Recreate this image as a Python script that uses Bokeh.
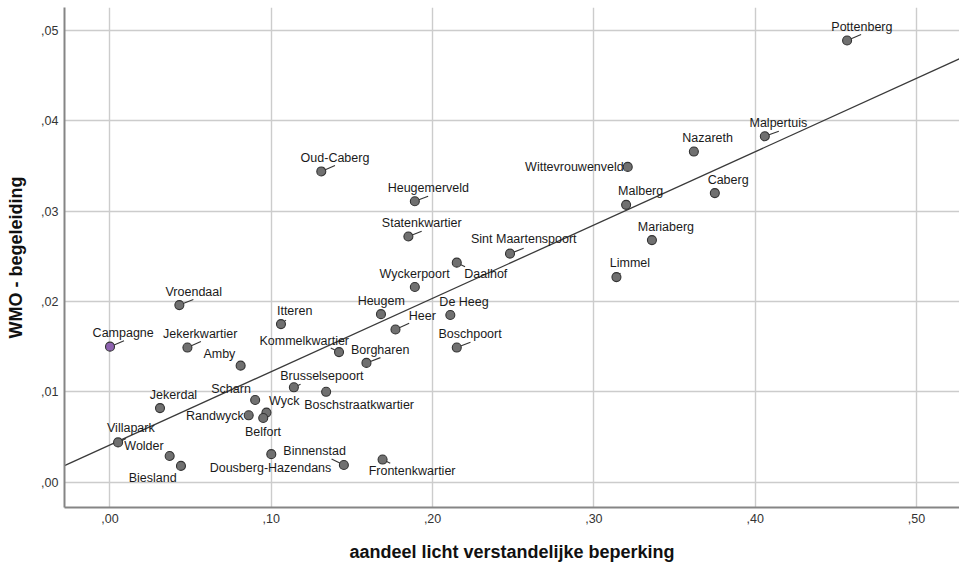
import numpy as np
from bokeh.plotting import figure
from bokeh.models import ColumnDataSource, Range1d, FixedTicker
from bokeh.core.properties import value, field
from bokeh.embed import file_html
from bokeh.resources import INLINE

# ---------------- data ----------------
names = ["Pottenberg", "Malpertuis", "Nazareth", "Wittevrouwenveld", "Caberg",
         "Malberg", "Mariaberg", "Limmel", "Oud-Caberg", "Heugemerveld",
         "Statenkwartier", "Sint Maartenspoort", "Daalhof", "Wyckerpoort",
         "Vroendaal", "Heugem", "De Heeg", "Itteren", "Heer", "Campagne",
         "Jekerkwartier", "Boschpoort", "Kommelkwartier", "Amby", "Borgharen",
         "Brusselsepoort", "Boschstraatkwartier", "Scharn", "Jekerdal", "Wyck",
         "Randwyck", "Belfort", "Villapark", "Dousberg-Hazendans", "Wolder",
         "Frontenkwartier", "Binnenstad", "Biesland"]
aandeel_lvb = [0.457, 0.406, 0.362, 0.321, 0.375,
               0.320, 0.336, 0.314, 0.131, 0.189,
               0.185, 0.248, 0.215, 0.189,
               0.043, 0.168, 0.211, 0.106, 0.177, 0.000,
               0.048, 0.215, 0.142, 0.081, 0.159,
               0.114, 0.134, 0.090, 0.031, 0.097,
               0.086, 0.095, 0.005, 0.100, 0.037,
               0.169, 0.145, 0.044]
wmo_begeleiding = [0.0489, 0.0383, 0.0366, 0.0349, 0.0320,
                   0.0307, 0.0268, 0.0227, 0.0344, 0.0311,
                   0.0272, 0.0253, 0.0243, 0.0216,
                   0.0196, 0.0186, 0.0185, 0.0175, 0.0169, 0.0150,
                   0.0149, 0.0149, 0.0144, 0.0129, 0.0132,
                   0.0105, 0.0100, 0.0091, 0.0082, 0.0077,
                   0.0074, 0.0071, 0.0044, 0.0031, 0.0029,
                   0.0025, 0.0019, 0.0018]
highlighted = ["Campagne"]

x_ticks = [0.0, 0.1, 0.2, 0.3, 0.4, 0.5]
x_tick_labels = [",00", ",10", ",20", ",30", ",40", ",50"]
y_ticks = [0.0, 0.01, 0.02, 0.03, 0.04, 0.05]
y_tick_labels = [",00", ",01", ",02", ",03", ",04", ",05"]

x_title = "aandeel licht verstandelijke beperking"
y_title = "WMO - begeleiding"

# ---------------- label layout (screen pixels: dx, dy(down), align, leader dx, leader dy) ----
LABEL_LAYOUT = {
    "Pottenberg": (14.8, -13, "center", 14, -6),
    "Malpertuis": (13.5, -13.7, "center", 14, -5),
    "Nazareth": (13.7, -14, "center", 3, -4),
    "Wittevrouwenveld": (-4, 0, "right", 0, 0),
    "Caberg": (13.3, -12.7, "center", 3, -4),
    "Malberg": (14.5, -14.3, "center", 3, -4),
    "Mariaberg": (14, -13, "center", 0, 0),
    "Limmel": (13.5, -13.7, "center", 4, -4),
    "Oud-Caberg": (13.7, -13.7, "center", 13.7, -6),
    "Heugemerveld": (13.5, -13, "center", 13.3, -5),
    "Statenkwartier": (13.4, -13.7, "center", 13.3, -5.3),
    "Sint Maartenspoort": (13.8, -14.3, "center", 13.7, -5.3),
    "Daalhof": (29, 11.7, "center", 8.3, 4),
    "Wyckerpoort": (-0.2, -13, "center", 0, 0),
    "Vroendaal": (14.4, -13, "center", 14, -5.7),
    "Heugem": (0.3, -13.3, "center", 0, 0),
    "De Heeg": (13.7, -13.3, "center", 3, -4),
    "Itteren": (13.7, -12.6, "center", 5, -4),
    "Heer": (26.8, -14, "center", 13.7, -6.3),
    "Campagne": (13.2, -13.4, "center", 14, -6),
    "Jekerkwartier": (12.8, -13.4, "center", 13.5, -6),
    "Boschpoort": (13.3, -14, "center", 13.7, -5.3),
    "Kommelkwartier": (10, -11, "right", -8.3, -4),
    "Amby": (-5.3, -11.3, "right", 0, 0),
    "Borgharen": (13.7, -13.4, "center", 14, -5.3),
    "Brusselsepoort": (28, -11, "center", 6.7, -3),
    "Boschstraatkwartier": (33, 13, "center", 0, 0),
    "Scharn": (-4.3, -11.3, "right", 0, 0),
    "Jekerdal": (13.5, -12.7, "center", 3, -4),
    "Wyck": (17.8, -11.3, "center", 0, 0),
    "Randwyck": (-5, 0.6, "right", 0, 0),
    "Belfort": (-0.2, 14, "center", 0, 0),
    "Villapark": (12.8, -14.3, "center", 8, -4),
    "Dousberg-Hazendans": (-0.8, 13.7, "center", 0, 0),
    "Wolder": (-6, -10.3, "right", 0, 0),
    "Frontenkwartier": (29.5, 11.3, "center", 7.7, 3.7),
    "Binnenstad": (2, -14, "right", -12.3, -6),
    "Biesland": (-4.3, 12.6, "right", 0, 0),
}

# ---------------- figure geometry ----------------
W, H = 959, 567
BL, BR, BT, BB = 64, 0, 7, 60
X0, X1 = -0.02821, 0.5267
Y0, Y1 = -0.002807, 0.05255
frame_w = W - BL - BR
frame_h = H - BT - BB
sx = frame_w / (X1 - X0)
sy = frame_h / (Y1 - Y0)

FONT = "Liberation Sans"

p = figure(width=W, height=H, output_backend="svg", toolbar_location=None,
           x_range=Range1d(X0, X1), y_range=Range1d(Y0, Y1),
           min_border_left=BL, min_border_right=BR, min_border_top=BT,
           min_border_bottom=BB)
p.outline_line_color = None
p.background_fill_color = "white"
p.border_fill_color = "white"

for ax, ticks, labels in ((p.xaxis[0], x_ticks, x_tick_labels),
                          (p.yaxis[0], y_ticks, y_tick_labels)):
    ax.ticker = FixedTicker(ticks=ticks)
    ax.major_label_overrides = {t: l for t, l in zip(ticks, labels)}
    ax.major_tick_in = 0
    ax.major_tick_out = 0
    ax.minor_tick_in = 0
    ax.minor_tick_out = 0
    ax.axis_line_color = "#858585"
    ax.axis_line_width = 2
    ax.major_label_text_font = FONT
    ax.major_label_text_font_size = "12.5px"
    ax.major_label_text_color = "#333333"
    ax.major_label_standoff = 6
    ax.axis_label_text_font = FONT
    ax.axis_label_text_font_size = "18px"
    ax.axis_label_text_font_style = "bold"
    ax.axis_label_text_color = "#111111"

p.xaxis[0].axis_label = x_title
p.yaxis[0].axis_label = y_title
p.xaxis[0].axis_label_standoff = 16
p.yaxis[0].axis_label_standoff = 12

for g, ticks in ((p.xgrid[0], x_ticks), (p.ygrid[0], y_ticks)):
    g.ticker = FixedTicker(ticks=ticks)
    g.grid_line_color = "#cccccc"
    g.grid_line_width = 1.4

# regression line (OLS fit through the data)
xa = np.array(aandeel_lvb)
ya = np.array(wmo_begeleiding)
slope, intercept = np.polyfit(xa, ya, 1)
p.line(x=[X0, X1], y=[intercept + slope * X0, intercept + slope * X1],
       line_color="#3a3a3a", line_width=1.3)

# leader lines
lx0, ly0, lx1, ly1 = [], [], [], []
for n, xv, yv in zip(names, aandeel_lvb, wmo_begeleiding):
    dx, dy, al, ldx, ldy = LABEL_LAYOUT[n]
    if ldx == 0 and ldy == 0:
        continue
    lx0.append(xv)
    ly0.append(yv)
    lx1.append(xv + ldx / sx)
    ly1.append(yv - ldy / sy)
p.segment(x0=lx0, y0=ly0, x1=lx1, y1=ly1, line_color="#333333", line_width=1.1)

# markers
colors = ["#8e62b0" if n in highlighted else "#707070" for n in names]
src = ColumnDataSource(dict(
    x=aandeel_lvb, y=wmo_begeleiding, name=names, color=colors,
    dx=[LABEL_LAYOUT[n][0] for n in names],
    dy=[LABEL_LAYOUT[n][1] for n in names],
    align=[LABEL_LAYOUT[n][2] for n in names],
))
p.scatter(x="x", y="y", source=src, size=9, fill_color="color",
          line_color="#333333", line_width=1.1)

p.text(x="x", y="y", text="name", source=src, x_offset="dx", y_offset="dy",
       text_align=field("align"), text_baseline="middle",
       text_font=value(FONT), text_font_size="12.5px", text_color="#1a1a1a")

open("out.html", "w").write(file_html(p, INLINE))
